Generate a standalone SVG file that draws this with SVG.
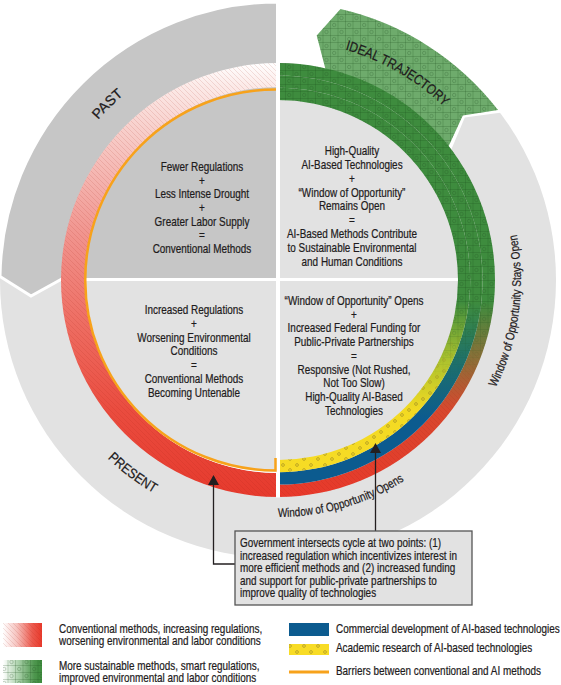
<svg xmlns="http://www.w3.org/2000/svg" width="561" height="685" viewBox="0 0 561 685">
<style>
text{font-family:"Liberation Sans",Arial,sans-serif;fill:#1e1b1c;stroke:#1e1b1c;stroke-width:0.22;font-size:12.4px}
.c{text-anchor:middle}
.lbl{font-size:14px}
.conn{fill:none;stroke:#231f20;stroke-width:1.3}
</style>
<defs>
  <linearGradient id="gLeft" gradientUnits="userSpaceOnUse" x1="0" y1="63" x2="0" y2="497">
    <stop offset="0" stop-color="#ffffff"/>
    <stop offset="0.05" stop-color="#fcebe9"/>
    <stop offset="0.15" stop-color="#f8d0cc"/>
    <stop offset="0.4" stop-color="#f1938d"/>
    <stop offset="0.6" stop-color="#ee6d62"/>
    <stop offset="0.8" stop-color="#ea4c3f"/>
    <stop offset="1" stop-color="#e63a2d"/>
  </linearGradient>
  <linearGradient id="gYel" gradientUnits="userSpaceOnUse" x1="0" y1="63" x2="0" y2="497">
    <stop offset="0" stop-color="#3e8c3e"/>
    <stop offset="0.55" stop-color="#3e8c3e"/>
    <stop offset="0.68" stop-color="#a9c12e"/>
    <stop offset="0.8" stop-color="#f3da22"/>
    <stop offset="1" stop-color="#f8dc26"/>
  </linearGradient>
  <linearGradient id="gBlue" gradientUnits="userSpaceOnUse" x1="0" y1="63" x2="0" y2="497">
    <stop offset="0" stop-color="#3e8c3e"/>
    <stop offset="0.55" stop-color="#3e8c3e"/>
    <stop offset="0.7" stop-color="#1c6e6e"/>
    <stop offset="0.82" stop-color="#0c5b8f"/>
    <stop offset="1" stop-color="#0c5b8f"/>
  </linearGradient>
  <linearGradient id="gRed" gradientUnits="userSpaceOnUse" x1="0" y1="63" x2="0" y2="497">
    <stop offset="0" stop-color="#3e8c3e"/>
    <stop offset="0.55" stop-color="#3e8c3e"/>
    <stop offset="0.68" stop-color="#8a7038"/>
    <stop offset="0.8" stop-color="#d8482e"/>
    <stop offset="1" stop-color="#e8392b"/>
  </linearGradient>
  <linearGradient id="gMaskTop" gradientUnits="userSpaceOnUse" x1="0" y1="63" x2="0" y2="497">
    <stop offset="0.547" stop-color="#fff"/>
    <stop offset="0.73" stop-color="#000"/>
  </linearGradient>
  <linearGradient id="gMaskBot" gradientUnits="userSpaceOnUse" x1="0" y1="63" x2="0" y2="497">
    <stop offset="0.59" stop-color="#000"/>
    <stop offset="0.78" stop-color="#fff"/>
  </linearGradient>
  <mask id="mTop" maskUnits="userSpaceOnUse" x="0" y="0" width="561" height="685">
    <rect width="561" height="685" fill="url(#gMaskTop)"/>
  </mask>
  <mask id="mBot" maskUnits="userSpaceOnUse" x="0" y="0" width="561" height="685">
    <rect width="561" height="685" fill="url(#gMaskBot)"/>
  </mask>
  <linearGradient id="gSwRed" x1="0" y1="0" x2="1" y2="0">
    <stop offset="0" stop-color="#ffffff"/>
    <stop offset="0.35" stop-color="#f6c3bf"/>
    <stop offset="0.75" stop-color="#ec5a4e"/>
    <stop offset="1" stop-color="#e8392b"/>
  </linearGradient>
  <linearGradient id="gSwGreen" x1="0" y1="0" x2="1" y2="0">
    <stop offset="0" stop-color="#ffffff"/>
    <stop offset="0.4" stop-color="#a9d0a9"/>
    <stop offset="0.8" stop-color="#4e964e"/>
    <stop offset="1" stop-color="#3e8c3e"/>
  </linearGradient>
  <pattern id="hatch" patternUnits="userSpaceOnUse" width="5" height="5">
    <path d="M-1,-1 L6,6 M-1,4 L1,6 M4,-1 L6,1" stroke="#a01e12" stroke-opacity="0.18" stroke-width="0.7" fill="none"/>
  </pattern>
  <pattern id="grid" patternUnits="userSpaceOnUse" width="15" height="14">
    <path d="M0.5,0 V14 M8,0 V14 M0,0.5 H15 M0,7.5 H15" stroke="#1d4d1d" stroke-opacity="0.28" stroke-width="0.8" fill="none"/>
    <circle cx="11.5" cy="4" r="1.7" fill="none" stroke="#1d4d1d" stroke-opacity="0.4" stroke-width="0.6"/>
    <circle cx="4.2" cy="11" r="1.7" fill="none" stroke="#1d4d1d" stroke-opacity="0.4" stroke-width="0.6"/>
  </pattern>
  <pattern id="dots" patternUnits="userSpaceOnUse" width="14" height="11">
    <circle cx="3" cy="3" r="1.4" fill="none" stroke="#9a8420" stroke-width="0.6"/>
    <circle cx="10" cy="8" r="1.4" fill="none" stroke="#9a8420" stroke-width="0.6"/>
  </pattern>
  <marker id="ah" viewBox="0 0 10 11" refX="8" refY="5.5" markerWidth="10" markerHeight="11" markerUnits="userSpaceOnUse" orient="auto">
    <path d="M0,0 L10,5.5 L0,11 Z" fill="#231f20"/>
  </marker>
  <path id="pPast" d="M37,280 A241,241 0 0 1 278,39"/>
  <path id="pIdeal" d="M278,40 A240,240 0 0 1 485.85,160"/>
  <path id="pPresent" d="M31.3,280 A246.7,246.7 0 0 0 278,526.7"/>
  <path id="pOpens" d="M159.5,485.25 A237,237 0 0 0 483.25,398.5"/>
  <path id="pStays" d="M449.8,451.8 A243,243 0 0 0 449.8,108.2"/>
</defs>

<rect width="561" height="685" fill="#fff"/>

<g id="present-ring">
  <circle cx="278" cy="280" r="278" fill="#e2e2e2"/>
  <path d="M280,68 L280,-5 A285,285 0 0 1 507.1,110.5 L500,112.7 L464.8,117.6 L451.3,149.4 L447.3,152.4 A212,212 0 0 0 285.4,68.1 Z" fill="#fff"/>
  <text class="lbl"><textPath href="#pPresent" startOffset="58.9%" text-anchor="middle" textLength="58" lengthAdjust="spacingAndGlyphs">PRESENT</textPath></text>
  <text><textPath href="#pOpens" startOffset="51.2%" text-anchor="middle" textLength="133" lengthAdjust="spacingAndGlyphs">Window of Opportunity Opens</textPath></text>
  <text><textPath href="#pStays" startOffset="41.4%" text-anchor="middle" textLength="157" lengthAdjust="spacingAndGlyphs">Window of Opportunity Stays Open</textPath></text>
</g>

<g id="ideal">
  <path d="M340.5,9.1 A278,278 0 0 1 498,110 L462.8,115.4 L447.3,149.1 A214,214 0 0 0 326.1,71.5 L316.7,35.5 Z" fill="#6eab6c"/>
  <path d="M340.5,9.1 A278,278 0 0 1 498,110 L462.8,115.4 L447.3,149.1 A214,214 0 0 0 326.1,71.5 L316.7,35.5 Z" fill="url(#grid)"/>
  <text class="lbl"><textPath href="#pIdeal" startOffset="50%" text-anchor="middle" textLength="115" lengthAdjust="spacingAndGlyphs">IDEAL TRAJECTORY</textPath></text>
</g>

<g id="past">
  <path d="M277.5,279.5 L277.5,2 A278,278 0 0 0 0,276.6 L31,296 L61,279.5 Z" fill="#c6c6c6" stroke="#fff" stroke-width="3" stroke-linejoin="miter"/>
  <text class="lbl"><textPath href="#pPast" startOffset="51%" text-anchor="middle">PAST</textPath></text>
</g>

<rect x="278" y="278" width="184" height="3" fill="#fff"/>

<g id="ring-left">
  <path d="M278,63 A217,217 0 0 0 278,497 L278,473 A193,193 0 0 1 278,87 Z" fill="url(#gLeft)"/>
  <path d="M278,63 A217,217 0 0 0 278,497 L278,473 A193,193 0 0 1 278,87 Z" fill="url(#hatch)"/>
</g>

<g id="ring-right">
  <path d="M278,63 A217,217 0 0 1 278,497 L278,484.6 A204.6,204.6 0 0 0 278,75.4 Z" fill="url(#gRed)"/>
  <path d="M278,75.4 A204.6,204.6 0 0 1 278,484.6 L278,472.3 A192.3,192.3 0 0 0 278,87.7 Z" fill="url(#gBlue)"/>
  <path d="M278,87.7 A192.3,192.3 0 0 1 278,472.3 L278,460 A180,180 0 0 0 278,100 Z" fill="url(#gYel)"/>
  <path d="M278,63 A217,217 0 0 1 278,497 L278,460 A180,180 0 0 0 278,100 Z" fill="url(#grid)" mask="url(#mTop)"/>
  <path d="M278,63 A217,217 0 0 1 278,497 L278,484.6 A204.6,204.6 0 0 0 278,75.4 Z" fill="url(#hatch)" mask="url(#mBot)"/>
  <path d="M278,87.7 A192.3,192.3 0 0 1 278,472.3 L278,460 A180,180 0 0 0 278,100 Z" fill="url(#dots)" mask="url(#mBot)"/>
</g>

<rect x="276" y="0" width="4" height="497.5" fill="#fff"/>

<g id="barrier">
  <path d="M276.5,472.4 A192.4,192.4 0 0 1 85.6,280" fill="none" stroke="#fff" stroke-width="1.2"/>
  <path d="M276,89.5 A190.5,190.5 0 0 0 275.5,470.5 L275.5,458" fill="none" stroke="#f7a21b" stroke-width="2.5"/>
</g>

<g id="q-tl">
  <g transform="translate(202 0) scale(0.8 1)">
    <text class="c" x="0" y="171">Fewer Regulations</text>
    <text class="c" x="0" y="184.7">+</text>
    <text class="c" x="0" y="198.4">Less Intense Drought</text>
    <text class="c" x="0" y="212.1">+</text>
    <text class="c" x="0" y="225.8">Greater Labor Supply</text>
    <text class="c" x="0" y="239.5">=</text>
    <text class="c" x="0" y="253.2">Conventional Methods</text>
  </g>
</g>

<g id="q-tr">
  <g transform="translate(352 0) scale(0.8 1)">
    <text class="c" x="0" y="155">High-Quality</text>
    <text class="c" x="0" y="168.9">AI-Based Technologies</text>
    <text class="c" x="0" y="182.75">+</text>
    <text class="c" x="0" y="196.6">“Window of Opportunity”</text>
    <text class="c" x="0" y="210.5">Remains Open</text>
    <text class="c" x="0" y="224.4">=</text>
    <text class="c" x="0" y="238.25">AI-Based Methods Contribute</text>
    <text class="c" x="0" y="252.1">to Sustainable Environmental</text>
    <text class="c" x="0" y="266">and Human Conditions</text>
  </g>
</g>

<g id="q-bl">
  <g transform="translate(194 0) scale(0.8 1)">
    <text class="c" x="0" y="314">Increased Regulations</text>
    <text class="c" x="0" y="327.8">+</text>
    <text class="c" x="0" y="341.7">Worsening Environmental</text>
    <text class="c" x="0" y="355.5">Conditions</text>
    <text class="c" x="0" y="369.3">=</text>
    <text class="c" x="0" y="383.2">Conventional Methods</text>
    <text class="c" x="0" y="397">Becoming Untenable</text>
  </g>
</g>

<g id="q-br">
  <g transform="translate(354 0) scale(0.8 1)">
    <text class="c" x="0" y="305">“Window of Opportunity” Opens</text>
    <text class="c" x="0" y="318.75">+</text>
    <text class="c" x="0" y="332.5">Increased Federal Funding for</text>
    <text class="c" x="0" y="346.25">Public-Private Partnerships</text>
    <text class="c" x="0" y="360">=</text>
    <text class="c" x="0" y="373.75">Responsive (Not Rushed,</text>
    <text class="c" x="0" y="387.5">Not Too Slow)</text>
    <text class="c" x="0" y="401.25">High-Quality AI-Based</text>
    <text class="c" x="0" y="415">Technologies</text>
  </g>
</g>

<g id="connectors">
  <path class="conn" d="M235,564 H213.5 V477" marker-end="url(#ah)"/>
  <path class="conn" d="M375.5,531 V445" marker-end="url(#ah)"/>
</g>

<g id="callout">
  <rect x="235" y="531" width="237" height="74" fill="#e2e2e2" stroke="#555" stroke-width="1.3"/>
  <g transform="translate(240 0) scale(0.8 1)">
    <text x="0" y="547.5">Government intersects cycle at two points: (1)</text>
    <text x="0" y="560">increased regulation which incentivizes interest in</text>
    <text x="0" y="572.5">more efficient methods and (2) increased funding</text>
    <text x="0" y="585">and support for public-private partnerships to</text>
    <text x="0" y="597.5">improve quality of technologies</text>
  </g>
</g>

<g id="legend">
  <rect x="3" y="623" width="39" height="24" fill="url(#gSwRed)"/>
  <rect x="3" y="623" width="39" height="24" fill="url(#hatch)"/>
  <rect x="3" y="660" width="39" height="23" fill="url(#gSwGreen)"/>
  <rect x="3" y="660" width="39" height="23" fill="url(#grid)"/>
  <rect x="289" y="623" width="40" height="13" fill="#0c5b8f"/>
  <rect x="289" y="644" width="40" height="11" fill="#f8dc26"/>
  <rect x="289" y="644" width="40" height="11" fill="url(#dots)"/>
  <line x1="289" y1="672" x2="329" y2="672" stroke="#f7a21b" stroke-width="3"/>
  <g transform="translate(59 0) scale(0.8 1)">
    <text x="0" y="633">Conventional methods, increasing regulations,</text>
    <text x="0" y="645">worsening environmental and labor conditions</text>
    <text x="0" y="670">More sustainable methods, smart regulations,</text>
    <text x="0" y="682">improved environmental and labor conditions</text>
  </g>
  <g transform="translate(336 0) scale(0.8 1)">
    <text x="0" y="633.5">Commercial development of AI-based technologies</text>
    <text x="0" y="652">Academic research of AI-based technologies</text>
    <text x="0" y="675">Barriers between conventional and AI methods</text>
  </g>
</g>
</svg>
